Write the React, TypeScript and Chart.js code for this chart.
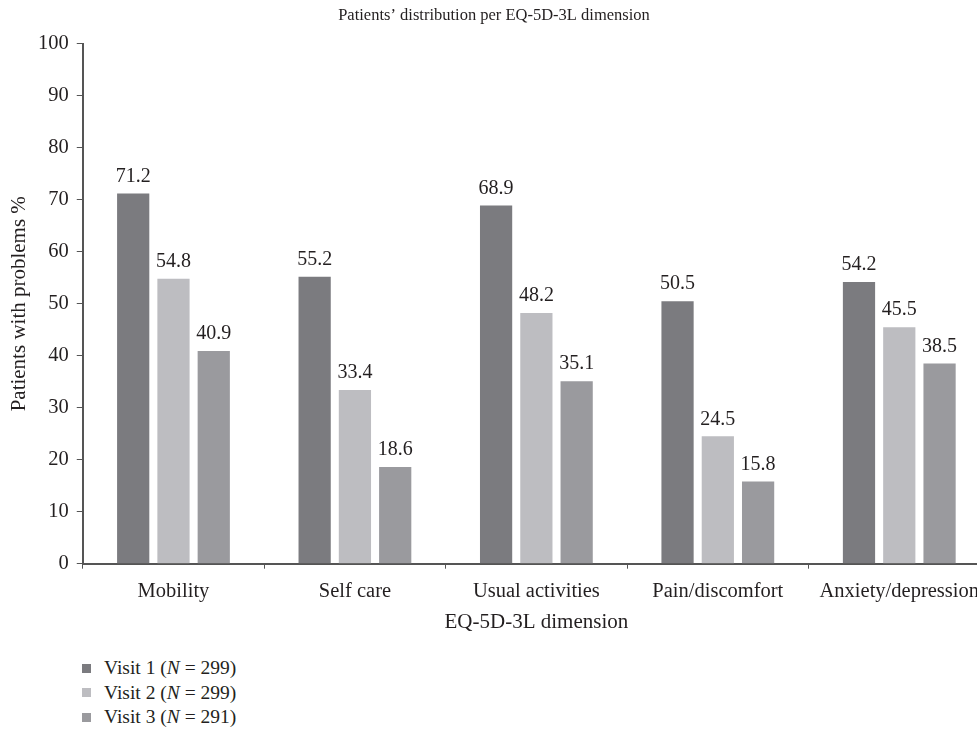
import React, { useEffect, useRef } from "react";
import { Chart, registerables } from "chart.js";

Chart.register(...registerables);

const categories = ["Mobility", "Self care", "Usual activities", "Pain/discomfort", "Anxiety/depression"];
const visit1 = [71.2, 55.2, 68.9, 50.5, 54.2];
const visit2 = [54.8, 33.4, 48.2, 24.5, 45.5];
const visit3 = [40.9, 18.6, 35.1, 15.8, 38.5];
const seriesNames = ["Visit 1", "Visit 2", "Visit 3"];
const seriesN = [299, 299, 291];
const colors = ["#7b7b7f", "#bdbdc1", "#9a9a9e"];
const FONT = "'Liberation Serif', 'DejaVu Serif', serif";
const TEXT = "#231f20";

const valueLabels = {
  id: "valueLabels",
  afterDatasetsDraw(chart: any) {
    const ctx = chart.ctx;
    ctx.save();
    ctx.font = `20px ${FONT}`;
    ctx.fillStyle = TEXT;
    ctx.textAlign = "center";
    ctx.textBaseline = "bottom";
    chart.data.datasets.forEach((ds: any, i: number) => {
      const meta = chart.getDatasetMeta(i);
      meta.data.forEach((bar: any, j: number) => {
        ctx.fillText(ds.data[j].toFixed(1), bar.x, bar.y - 7);
      });
    });
    ctx.restore();
  },
};

export default function App() {
  const ref = useRef<HTMLCanvasElement>(null);
  useEffect(() => {
    const chart = new Chart(ref.current!, {
      type: "bar",
      data: {
        labels: categories,
        datasets: [visit1, visit2, visit3].map((d, i) => ({
          label: seriesNames[i],
          data: d,
          backgroundColor: colors[i],
          categoryPercentage: 0.666,
          barPercentage: 0.8,
        })),
      },
      options: {
        responsive: false,
        animation: false,
        layout: { padding: { top: 0, right: 0, left: -2, bottom: 0 } },
        plugins: {
          legend: { display: false },
          tooltip: { enabled: false },
          title: {
            display: true,
            text: "Patients\u2019 distribution per EQ-5D-3L dimension",
            color: TEXT,
            font: { family: FONT, size: 16.5, weight: "normal" },
            padding: { top: 6, bottom: 18 },
          },
        },
        scales: {
          x: {
            grid: { drawOnChartArea: false, tickLength: 5, color: "#555" },
            border: { color: "#555", width: 2 },
            ticks: { color: TEXT, font: { family: FONT, size: 20.5 }, padding: 11 },
            title: {
              display: true,
              text: "EQ-5D-3L dimension",
              color: TEXT,
              font: { family: FONT, size: 21 },
              padding: { top: -5.5, bottom: 0 },
            },
          },
          y: {
            min: 0,
            max: 100,
            ticks: { stepSize: 10, color: TEXT, font: { family: FONT, size: 20.5 }, padding: 8 },
            grid: { drawOnChartArea: false, tickLength: 6, color: "#555" },
            border: { color: "#555", width: 2 },
            title: {
              display: true,
              text: "Patients with problems %",
              color: TEXT,
              font: { family: FONT, size: 21, lineHeight: 1 },
              padding: { top: 11, bottom: 0 },
            },
          },
        },
      },
      plugins: [valueLabels],
    });
    return () => chart.destroy();
  }, []);

  return (
    <div style={{ position: "absolute", left: 0, top: 0, width: 977, height: 735, overflow: "hidden", background: "#fff" }}>
      <canvas ref={ref} width={990} height={635} style={{ position: "absolute", left: 0, top: 0 }} />
      <div style={{ position: "absolute", left: 82, top: 656, fontFamily: FONT, fontSize: 19.5, color: TEXT, lineHeight: "24.5px" }}>
        {seriesNames.map((n, i) => (
          <div key={n} style={{ display: "flex", alignItems: "center" }}>
            <span style={{ display: "inline-block", width: 9, height: 9, background: colors[i], marginRight: 13 }} />
            <span>
              {n} (<i>N</i> = {seriesN[i]})
            </span>
          </div>
        ))}
      </div>
    </div>
  );
}
